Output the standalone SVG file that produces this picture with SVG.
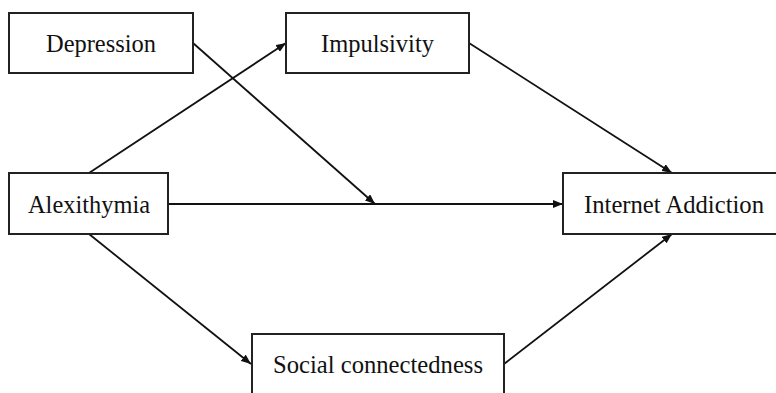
<svg xmlns="http://www.w3.org/2000/svg" width="776" height="393" viewBox="0 0 776 393">
<defs>
<marker id="ah" viewBox="0 0 10 8" refX="10" refY="4" markerWidth="10" markerHeight="8" markerUnits="userSpaceOnUse" orient="auto">
<path d="M0,0 L10,4 L0,8 Z" fill="#111"/>
</marker>
<style>
.box{fill:#fff;stroke:#222;stroke-width:2}
.lbl{font-family:"Liberation Serif","Times New Roman",serif;font-size:26px;fill:#111;text-anchor:middle}
.edge{stroke:#111;stroke-width:1.8;fill:none;marker-end:url(#ah)}
</style>
</defs>
<rect width="776" height="393" fill="#fff"/>
<g id="connectors">
<line class="edge" x1="89" y1="173" x2="286" y2="43"/>
<line class="edge" x1="168" y1="204" x2="563" y2="204"/>
<line class="edge" x1="193" y1="43" x2="375" y2="204"/>
<line class="edge" x1="469" y1="43" x2="672" y2="173"/>
<line class="edge" x1="89" y1="234" x2="251" y2="364"/>
<line class="edge" x1="504" y1="364" x2="672" y2="234"/>
</g>
<g id="depression">
<rect class="box" x="9" y="13" width="184" height="60"/>
<text class="lbl" x="101" y="52" textLength="110" lengthAdjust="spacingAndGlyphs">Depression</text>
</g>
<g id="impulsivity">
<rect class="box" x="286" y="13" width="183" height="60"/>
<text class="lbl" x="377.5" y="52" textLength="113" lengthAdjust="spacingAndGlyphs">Impulsivity</text>
</g>
<g id="alexithymia">
<rect class="box" x="9" y="173" width="159" height="61"/>
<text class="lbl" x="89" y="213" textLength="122" lengthAdjust="spacingAndGlyphs">Alexithymia</text>
</g>
<g id="internet-addiction">
<rect class="box" x="563" y="173" width="230" height="61"/>
<text class="lbl" x="674" y="213" textLength="180" lengthAdjust="spacingAndGlyphs">Internet Addiction</text>
</g>
<g id="social-connectedness">
<rect class="box" x="252" y="334" width="252" height="70"/>
<text class="lbl" x="378" y="373" textLength="210" lengthAdjust="spacingAndGlyphs">Social connectedness</text>
</g>
</svg>
